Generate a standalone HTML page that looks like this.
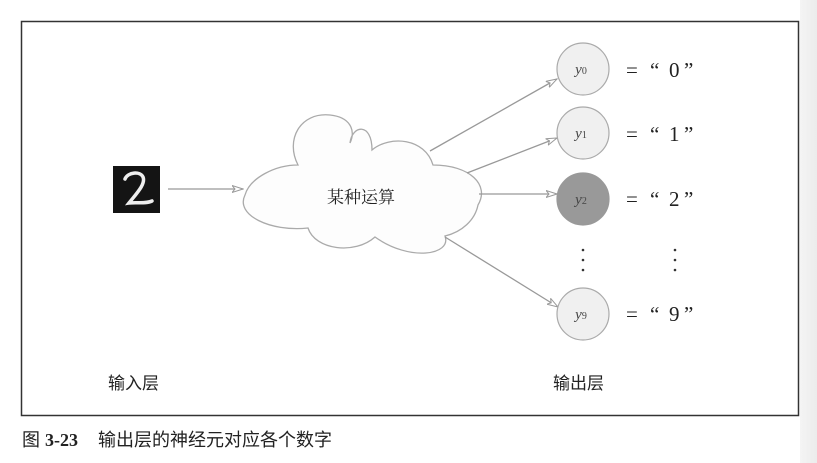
<!DOCTYPE html>
<html><head><meta charset="utf-8"><style>
html,body{margin:0;padding:0;background:#fff;}
body{width:817px;height:463px;overflow:hidden;position:relative;font-family:"Liberation Sans","Noto Sans CJK SC",sans-serif;}
.right{position:absolute;left:800px;top:0;width:17px;height:463px;background:linear-gradient(to right,#f4f4f4,#ececec);}
.t{position:absolute;white-space:nowrap;color:#222;}
</style></head><body>
<div class="right"></div>
<svg width="817" height="463" style="position:absolute;left:0;top:0">
<defs>
<marker id="a" markerWidth="12" markerHeight="8" refX="11" refY="4" orient="auto" markerUnits="userSpaceOnUse">
<path d="M0,0.5 L11,4 L0,7.5 L3,4 Z" fill="#fff" stroke="#999" stroke-width="1"/>
</marker>
</defs>
<rect x="21.5" y="21.5" width="777" height="394" fill="#fff" stroke="#333" stroke-width="1.5"/>
<rect x="113" y="166" width="47" height="47" fill="#141414"/>
<path d="M125,179 C128,172 140,171 143,177 C146,184 136,194 129,203 C136,202 146,204 152,201" fill="none" stroke="#eee" stroke-width="3.5" stroke-linecap="round"/>
<line x1="168" y1="189" x2="243" y2="189" stroke="#999" stroke-width="1.3" marker-end="url(#a)"/>
<path d="M298,165 C285,140 300,112 330,115 C350,117 356,130 350,143 C352,125 372,122 372,150 C390,135 425,138 433,165 C470,165 490,185 478,205 C475,220 462,232 445,236 C452,255 410,262 375,237 C355,255 315,250 308,228 C270,232 235,215 245,195 C250,178 275,165 298,165 Z" fill="#fdfdfd" stroke="#aaa" stroke-width="1.3"/>
<line x1="430" y1="151" x2="557" y2="79" stroke="#999" stroke-width="1.3" marker-end="url(#a)"/>
<line x1="467" y1="173" x2="557" y2="138" stroke="#999" stroke-width="1.3" marker-end="url(#a)"/>
<line x1="479" y1="194" x2="557" y2="194" stroke="#999" stroke-width="1.3" marker-end="url(#a)"/>
<line x1="445" y1="237" x2="558" y2="307" stroke="#999" stroke-width="1.3" marker-end="url(#a)"/>
<circle cx="583" cy="69" r="26" fill="#f0f0f0" stroke="#aaa" stroke-width="1.2"/>
<circle cx="583" cy="133" r="26" fill="#f0f0f0" stroke="#aaa" stroke-width="1.2"/>
<circle cx="583" cy="199" r="26" fill="#999" stroke="#999" stroke-width="1.2"/>
<circle cx="583" cy="314" r="26" fill="#f0f0f0" stroke="#aaa" stroke-width="1.2"/>
<g fill="#333">
<circle cx="583" cy="250" r="1.3"/><circle cx="583" cy="260" r="1.3"/><circle cx="583" cy="270" r="1.3"/>
<circle cx="675" cy="250" r="1.3"/><circle cx="675" cy="260" r="1.3"/><circle cx="675" cy="270" r="1.3"/>
</g>
<g font-family="Liberation Serif,serif" font-style="italic" font-size="15" fill="#444" text-anchor="middle">
<text x="581" y="74">y<tspan font-style="normal" font-size="10">0</tspan></text>
<text x="581" y="138">y<tspan font-style="normal" font-size="10">1</tspan></text>
<text x="581" y="204">y<tspan font-style="normal" font-size="10">2</tspan></text>
<text x="581" y="319">y<tspan font-style="normal" font-size="10">9</tspan></text>
</g>
<g font-family="Liberation Serif,serif" font-size="21" fill="#222">
<g><text x="626" y="77">=</text><text x="650" y="77">“</text><text x="669" y="77">0</text><text x="684" y="77">”</text></g>
<g><text x="626" y="141">=</text><text x="650" y="141">“</text><text x="669" y="141">1</text><text x="684" y="141">”</text></g>
<g><text x="626" y="206">=</text><text x="650" y="206">“</text><text x="669" y="206">2</text><text x="684" y="206">”</text></g>
<g><text x="626" y="321">=</text><text x="650" y="321">“</text><text x="669" y="321">9</text><text x="684" y="321">”</text></g>
</g>
<text x="361" y="203" font-family="Noto Serif CJK SC,Noto Sans CJK SC,serif" font-size="17" fill="#222" text-anchor="middle">某种运算</text>
</svg>
<div class="t" style="left:108px;top:369px;font-size:17px;">输入层</div>
<div class="t" style="left:553px;top:369px;font-size:17px;">输出层</div>
<div class="t" style="left:22px;top:426px;font-size:18px;">图 <b style="font-family:'Liberation Serif',serif">3-23</b>&nbsp;&nbsp;&nbsp;&nbsp;输出层的神经元对应各个数字</div>
</body></html>
